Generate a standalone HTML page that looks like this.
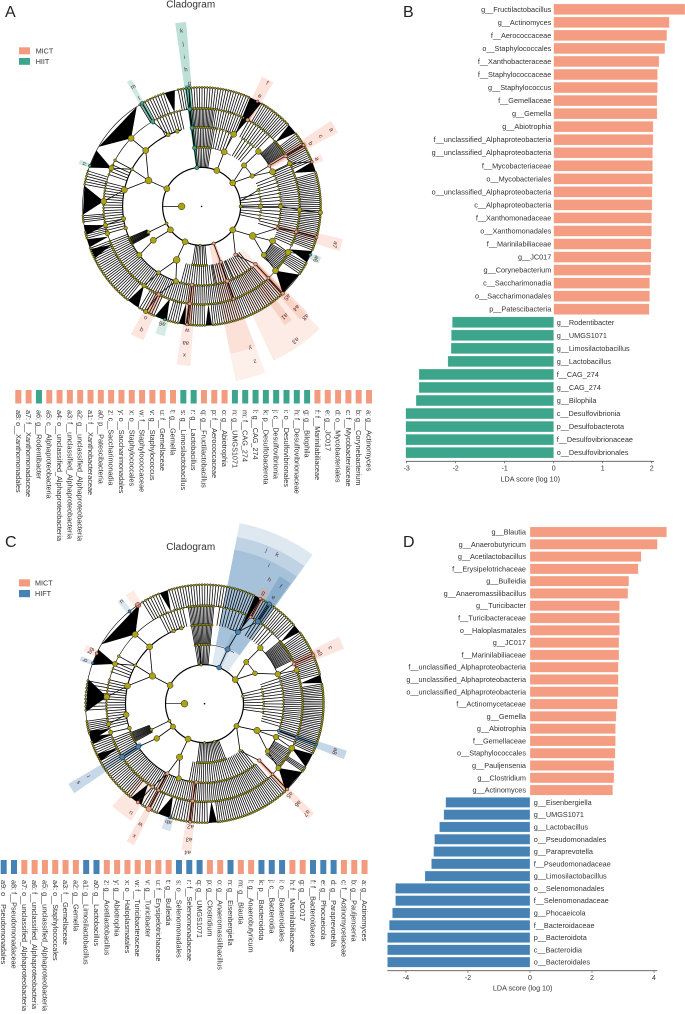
<!DOCTYPE html>
<html lang="en">
<head>
<meta charset="utf-8">
<title>LEfSe cladograms and LDA scores</title>
<style>
html,body{margin:0;padding:0;background:#fff;}
body{width:685px;height:1014px;overflow:hidden;}
svg{display:block;font-family:"Liberation Sans",sans-serif;}
</style>
</head>
<body>
<svg id="figure" width="685" height="1014" viewBox="0 0 685 1014" xmlns="http://www.w3.org/2000/svg">
  <text x="5" y="17" font-size="16" fill="#222">A</text>
  <text x="403" y="17" font-size="16" fill="#222">B</text>
  <text x="5" y="547" font-size="16" fill="#222">C</text>
  <text x="403" y="547" font-size="16" fill="#222">D</text>
  <text x="190.7" y="7.5" font-size="10" text-anchor="middle" fill="#333">Cladogram</text>
  <text x="190.7" y="550" font-size="10" text-anchor="middle" fill="#333">Cladogram</text>
  <rect x="19" y="47.3" width="11" height="7" fill="#f39b7f"/>
  <text x="35.7" y="53.5" font-size="7.2" fill="#333">MICT</text>
  <rect x="19" y="58" width="11" height="6.8" fill="#3ca58b"/>
  <text x="35.7" y="64" font-size="7.2" fill="#333">HIIT</text>
  <rect x="19" y="579.3" width="11" height="7.2" fill="#f39b7f"/>
  <text x="35" y="585.5" font-size="7.2" fill="#333">MICT</text>
  <rect x="19" y="590" width="11" height="7.2" fill="#4682b4"/>
  <text x="35" y="596" font-size="7.2" fill="#333">HIFT</text>
</svg>
<script>
// ---------- Bar chart data ----------
const categoriesB = ["g__Fructilactobacillus","g__Actinomyces","f__Aerococcaceae","o__Staphylococcales","f__Xanthobacteraceae","f__Staphylococcaceae","g__Staphylococcus","f__Gemellaceae","g__Gemella","g__Abiotrophia","f__unclassified_Alphaproteobacteria","g__unclassified_Alphaproteobacteria","f__Mycobacteriaceae","o__Mycobacteriales","o__unclassified_Alphaproteobacteria","c__Alphaproteobacteria","f__Xanthomonadaceae","o__Xanthomonadales","f__Marinilabiliaceae","g__JC017","g__Corynebacterium","c__Saccharimonadia","o__Saccharimonadales","p__Patescibacteria","g__Rodentibacter","g__UMGS1071","g__Limosilactobacillus","g__Lactobacillus","f__CAG_274","g__CAG_274","g__Bilophila","c__Desulfovibrionia","p__Desulfobacterota","f__Desulfovibrionaceae","o__Desulfovibrionales"];
const valuesB = [2.68,2.36,2.31,2.27,2.15,2.12,2.12,2.11,2.11,2.03,2.03,2.02,2.02,2.02,2.01,2.01,2.0,2.0,1.99,1.99,1.98,1.96,1.96,1.95,-2.07,-2.09,-2.095,-2.16,-2.75,-2.75,-2.81,-3.02,-3.02,-3.02,-3.02];
const ticksB = [-3,-2,-1,0,1,2];

const categoriesD = ["g__Blautia","g__Anaerobutyricum","g__Acetilactobacillus","f__Erysipelotrichaceae","g__Bulleidia","g__Anaeromassilibacillus","g__Turicibacter","f__Turicibacteraceae","o__Haloplasmatales","g__JC017","f__Marinilabiliaceae","f__unclassified_Alphaproteobacteria","g__unclassified_Alphaproteobacteria","o__unclassified_Alphaproteobacteria","f__Actinomycetaceae","g__Gemella","g__Abiotrophia","f__Gemellaceae","o__Staphylococcales","g__Pauljensenia","g__Clostridium","g__Actinomyces","g__Eisenbergiella","g__UMGS1071","g__Lactobacillus","o__Pseudomonadales","g__Paraprevotella","f__Pseudomonadaceae","g__Limosilactobacillus","o__Selenomonadales","f__Selenomonadaceae","g__Phocaeicola","f__Bacteroidaceae","p__Bacteroidota","c__Bacteroidia","o__Bacteroidales"];
const valuesD = [4.41,4.11,3.59,3.49,3.19,3.16,2.89,2.89,2.89,2.87,2.87,2.85,2.85,2.85,2.82,2.78,2.76,2.76,2.75,2.71,2.71,2.67,-2.72,-2.78,-2.92,-3.08,-3.11,-3.18,-3.39,-4.34,-4.34,-4.44,-4.54,-4.6,-4.6,-4.6];
const ticksD = [-4,-2,0,2,4];

// ---------- Taxon key strips ("M" = MICT, "X" = exercise group) ----------
const keyNamesA = ["a8: o__Xanthomonadales","a7: f__Xanthomonadaceae","a6: g__Rodentibacter","a5: c__Alphaproteobacteria","a4: o__unclassified_Alphaproteobacteria","a3: f__unclassified_Alphaproteobacteria","a2: g__unclassified_Alphaproteobacteria","a1: f__Xanthobacteraceae","a0: p__Patescibacteria","z: c__Saccharimonadia","y: o__Saccharimonadales","x: o__Staphylococcales","w: f__Staphylococcaceae","v: g__Staphylococcus","u: f__Gemellaceae","t: g__Gemella","s: g__Limosilactobacillus","r: g__Lactobacillus","q: g__Fructilactobacillus","p: f__Aerococcaceae","o: g__Abiotrophia","n: g__UMGS1071","m: f__CAG_274","l: g__CAG_274","k: p__Desulfobacterota","j: c__Desulfovibrionia","i: o__Desulfovibrionales","h: f__Desulfovibrionaceae","g: g__Bilophila","f: f__Marinilabiliaceae","e: g__JC017","d: o__Mycobacteriales","c: f__Mycobacteriaceae","b: g__Corynebacterium","a: g__Actinomyces"];
const keyGroupsA = ["M","M","X","M","M","M","M","M","M","M","M","M","M","M","M","M","X","X","M","M","M","X","X","X","X","X","X","X","X","M","M","M","M","M","M"];
const keyNamesC = ["a9: o__Pseudomonadales","a8: f__Pseudomonadaceae","a7: o__unclassified_Alphaproteobacteria","a6: f__unclassified_Alphaproteobacteria","a5: g__unclassified_Alphaproteobacteria","a4: o__Staphylococcales","a3: f__Gemellaceae","a2: g__Gemella","a1: g__Limosilactobacillus","a0: g__Lactobacillus","z: g__Acetilactobacillus","y: g__Abiotrophia","x: o__Haloplasmatales","w: f__Turicibacteraceae","v: g__Turicibacter","u: f__Erysipelotrichaceae","t: g__Bulleidia","s: o__Selenomonadales","r: f__Selenomonadaceae","q: g__UMGS1071","p: g__Clostridium","o: g__Anaeromassilibacillus","n: g__Eisenbergiella","m: g__Blautia","l: g__Anaerobutyricum","k: p__Bacteroidota","j: c__Bacteroidia","i: o__Bacteroidales","h: f__Marinilabiliaceae","g: g__JC017","f: f__Bacteroidaceae","e: g__Phocaeicola","d: g__Paraprevotella","c: f__Actinomycetaceae","b: g__Pauljensenia","a: g__Actinomyces"];
const keyGroupsC = ["X","X","M","M","M","M","M","M","X","X","M","M","M","M","M","M","M","X","X","X","M","M","X","M","M","X","X","X","M","M","X","X","X","M","M","M"];

// ---------- Cladogram data (angles in degrees clockwise from 12 o'clock) ----------
const levelRadii = [20,39,59,79,98,119];
// nodes: level, angle, parent angle (null = sits on arc), size, kind (0 plain, 1 MICT, 2 exercise group)
const nodesA = [
[0,-90,-90,3.4,0],
[1,-63,null,3,0],[1,-7,null,2,2],[1,23,null,3,0],[1,53,null,3,0],[1,90,null,1.6,0],[1,127,null,3,0],[1,162,null,1.6,1],[1,182,null,1.3,0],[1,205,null,3,0],[1,233,null,3,0],[1,244,null,1.6,0],
[2,-64,-63,3.4,0],[2,-7,-7,2,2],[2,22.5,23,3,0],[2,46,53,2.6,0],[2,59,53,2.2,0],[2,74,82,1.5,0],[2,90,90,2.2,0],[2,120,127,3.4,0],[2,145,127,1.8,1],[2,161,162,1.8,1],[2,205,205,3.4,0],[2,235,233,3,0],[2,244,244,1.6,0],
[3,-78,-64,3,0],[3,-45,-64,3,0],[3,-62,-64,1.5,0],[3,-25,null,2,0],[3,-18,null,2,0],[3,-7,-7,2,2],[3,24,22.5,3,0],[3,46,46,2.8,0],[3,59,59,1.6,1],[3,64,59,3,0],[3,90,90,2.2,0],[3,106,120,1.6,1],[3,116,120,3,0],[3,128,120,2.6,0],[3,137,145,1.8,1],[3,161,161,2,1],[3,187,null,1.8,1],[3,199,205,2.6,0],[3,213,205,2,0],[3,232,235,2.6,0],[3,254,null,1.8,0],[3,261,null,2.2,0],
[4,-46,-45,3,0],[4,-67,-62,2.6,0],[4,-62,-62,1.5,0],[4,-87,-78,3,0],[4,-30,-25,2,2],[4,-7,-7,2,2],[4,28,24,1.8,1],[4,59,59,1.8,1],[4,64,64,2.4,0],[4,92,90,2.2,0],[4,105,106,1.7,1],[4,118,116,3,0],[4,131,128,3,0],[4,137,137,1.5,1],[4,161,161,1.5,1],[4,187,187,1.8,1],[4,206,199,1.8,1],[4,216,213,2.2,0],[4,254,254,2.4,0],[4,259,261,2.2,0],
[5,-6,-7,1.6,2],[5,-30,-30,1.8,2],[5,28,28,1.4,1],[5,59,59,1.5,1],[5,68,64,1.4,1],[5,93,92,2.2,0],[5,105,105,1.5,1],[5,114,118,1.4,2],[5,137,137,1.8,1],[5,187,187,1.5,1],[5,198,199,1.4,2],[5,208,206,2.2,0],[5,-70,-67,1.4,2]
];
const arcsA = [[1,-180,180,1.2],[3,-100,-15,1.1],[3,18,26,0.7],[3,199,262,1],[3,140,200,0.9],[3,116,128,0.9],[3,46,64,0.7],[2,46,59,0.7],[2,-7,30,0.5],[4,-180,180,0.6],[5,-180,180,0.6],[3,88,106,0.6]];
// fans: start angle, end angle, branch count, from level, to level
const fansA = [
[-32,-18,10,4,5],[-12,24,28,4,5],[30,47,15,4,5],[52,68,16,4,5],[73,112,40,4,5],[118,125,7,4,5],[137,175,34,4,5],[178,188,9,4,5],[191,197,5,4,5],[203,212,7,4,5],[218,250,28,4,5],[254,258,4,4,5],[262,266,4,4,5],[280,288,6,4,5],
[-28,-12,9,3,4],[-8,8,18,3,4],[8,26,12,3,4],[28,45,10,3,4],[48,58,14,3,4],[64,100,26,3,4],[100,114,10,3,4],[118,130,13,3,4],[139,176,30,3,4],[176,190,11,3,4],[190,250,44,3,4],[255,285,18,3,4],[-72,-64,4,3,4],
[-8,10,14,2,3],[10,24,6,2,3],[30,42,5,2,3],[66,108,16,2,3],[140,196,30,2,3],[241,247,10,2,3],
[-8,10,10,1,2],[76,104,8,1,2],[174,190,8,1,2],[150,172,5,2,3]
];
// wedges: apex angle, start angle, end angle, from level, to level
const wedgesA = [[-46,-60,-33,4,5],[-67,-71,-62,4,5],[-87,-94,-80,4,5],[-101,-104,-99,4,5],[-113,-116,-111,4,5],[-16,-18,-13,4,5],[25,24,30,3,5],[49,47,52,4,5],[70,68,73,4,5],[116,112,118,4,5],[131,125,137,4,5],[176,175,178,4,5],[189,188,191,4,5],[199,197,203,4,5],[216,212,218,4,5],[252,250,254,4,5]];
// shaded clades: start angle, end angle, inner radius, outer radius, kind, opacity
const shadesA = [
[-8.2,-4.8,38,185,2,0.34],[-8,-5.6,38,122,2,0.75],[-31,-29,95,145,2,0.25],[-31,-29,95,119,2,0.7],
[25,30,97,143,1,0.28],[26.7,29.3,97,120,1,0.7],[56.5,61.5,78,155,1,0.28],[57.7,60.3,78,122,1,0.6],[66.5,69.5,115,130,1,0.25],
[103,108,75,145,1,0.25],[104,106.5,78,120,1,0.35],[113,116,115,130,2,0.25],
[136,155,60,170,1,0.2],[135,139,78,150,1,0.3],[135.8,138.2,78,120,1,0.7],[141.5,145,98,145,1,0.3],
[159,169,40,178,1,0.16],[159,169,40,150,1,0.16],[160,163,40,100,1,0.55],
[184,189,78,160,1,0.22],[185,188.5,78,120,1,0.65],[203.5,209,95,146,1,0.25],[205,208,95,120,1,0.6],[196,200,115,135,2,0.22],[-71,-69,117,130,2,0.25]
];
const labelsA = [["g",124,-5.7],["h",138,-6.5],["i",150.6,-6.6],["j",164,-6.5],["k",177,-6.5],["m",138,-29.7],["l",125,-30],["e",125,27.8],["f",140,28],["b",126,60],["c",138.5,59.5],["a",151,59.4],["a",125,67.6],["a7",139,106],["a6",126,114.6],["a5",125,136.7],["a1",138,143],["a4",139,137],["a8",152,136.8],["a3",164,145],["y",150,161],["z",164,161],["w",125,186.6],["aa",138,186.6],["x",150,186.6],["o",125,206.7],["q",137.5,206],["a6",124,198.5],["n",125,-70]];

const nodesC = [
[0,-90,-90,3.4,0],
[1,-62,null,3,0],[1,22,null,2.4,2],[1,-5,null,1.3,0],[1,52,null,3,0],[1,79,null,1.4,0],[1,125,null,2.6,0],[1,205,null,3,0],[1,234,null,2.6,0],[1,244,null,1.6,0],[1,165,null,1.3,0],[1,180,null,1.3,0],
[2,-62,-62,3.2,0],[2,23,22,2.6,2],[2,45,52,2.6,0],[2,59,52,2.4,0],[2,117,125,3.2,0],[2,143,125,1.3,0],[2,205,205,3.2,0],[2,234,234,2.8,0],[2,244,244,1.5,0],[2,-5,-5,1.3,0],
[3,-44,-62,3,0],[3,-77,-62,3,0],[3,-61,-62,1.6,0],[3,-17,null,1.8,0],[3,-23,null,1.8,0],[3,25,23,2.6,2],[3,45,45,2.8,0],[3,68,59,2.8,0],[3,110,117,1.5,2],[3,115,117,2.8,0],[3,127,117,2.4,0],[3,136,143,1.8,1],[3,186,null,1.7,1],[3,199,205,2.6,0],[3,208,205,1.8,1],[3,237,234,2.4,2],[3,252,null,2,0],[3,262,null,2.8,0],
[4,-45,-44,3,0],[4,-66,-61,2.6,0],[4,-61,-61,1.4,0],[4,-86,-77,3,0],[4,28,25,1.5,1],[4,33,25,2.6,2],[4,66,68,1.7,1],[4,70,68,2.6,0],[4,110,110,1.5,2],[4,117,115,3,0],[4,131,127,2.6,0],[4,136,136,1.4,1],[4,187,186,1.8,1],[4,208,208,1.6,1],[4,212,208,1.8,1],[4,237,237,2.6,2],[4,253,252,2.2,0],[4,258,262,2.2,0],
[5,33,33,2.2,2],[5,28,28,1.5,1],[5,66,66,1.5,1],[5,110,110,1.4,2],[5,136,136,1.6,1],[5,187,187,1.5,1],[5,208,208,2.6,1],[5,214,212,1.7,1],[5,197,199,1.3,2],[5,-34,-45,2.6,1],[5,-39,-45,1.5,2],[5,-65,-66,1.6,1],[5,-70,-66,1.2,2]
];
const arcsC = [[1,-180,180,1.2],[3,-100,-15,1.1],[3,18,27,0.7],[3,199,262,1],[3,140,199,0.9],[3,115,128,0.9],[3,45,68,0.7],[2,45,59,0.7],[2,-10,30,0.5],[4,-180,180,0.6],[5,-180,180,0.6],[3,88,110,0.6]];
const fansC = [
[-32,-22,7,4,5],[-18,25,32,4,5],[28,49,17,4,5],[53,76,22,4,5],[80,115,38,4,5],[122,125,4,4,5],[137,174,34,4,5],[178,197,15,4,5],[203,212,7,4,5],[218,252,30,4,5],[255,262,7,4,5],[266,282,9,4,5],
[-28,-12,9,3,4],[-10,6,18,3,4],[8,26,9,3,4],[30,45,8,3,4],[50,64,18,3,4],[70,100,24,3,4],[100,114,10,3,4],[118,130,13,3,4],[139,176,30,3,4],[176,190,11,3,4],[190,250,44,3,4],[255,285,18,3,4],[-72,-64,4,3,4],
[-10,6,16,2,3],[70,108,16,2,3],[140,192,30,2,3],[241,249,11,2,3],
[-10,6,10,1,2],[74,100,8,1,2],[158,188,16,1,2]
];
const wedgesC = [[-45,-60,-33,4,5],[-66,-71,-63,4,5],[-86,-94,-78,4,5],[-105,-108,-103,4,5],[-117,-119,-115,4,5],[-20,-22,-18,4,5],[26,25,28,3,5],[51,49,53,4,5],[78,76,80,4,5],[117,115,122,4,5],[131,125,137,4,5],[176,174,178,4,5],[199,197,203,4,5],[215,212,218,4,5],[252,250,254,4,5]];
const shadesC = [
[11,36,40,184,2,0.18],[11,36,60,170,2,0.2],[11,36,60,157,2,0.2],[30.5,35.5,97,148,2,0.3],[21,25,38,75,2,0.2],
[26,30,97,130,1,0.3],[27,29.2,97,120,1,0.7],[31.5,34.5,97,120,2,0.5],
[63.5,68.5,95,150,1,0.25],[64.5,67.5,97,122,1,0.65],[108.3,111.7,78,150,2,0.32],[109.3,110.7,78,120,2,0.5],
[135,138,78,155,1,0.28],[135.3,137,78,120,1,0.75],[185,189,78,148,1,0.24],[186,188,78,120,1,0.65],
[212,222,95,138,1,0.24],[206.5,209.5,78,158,1,0.28],[207,209,78,118,1,0.65],[195,199,115,132,2,0.22],
[235.5,239.5,75,158,2,0.3],[236,238.5,75,100,2,0.7],[-36,-32,118,134,1,0.2],[-40.5,-38,118,134,2,0.2],[-66.5,-63.5,118,132,1,0.2],[-71,-69,118,132,2,0.25]
];
const labelsC = [["j",166,22],["k",166,26],["i",152.6,25],["h",140,27.6],["g",125.7,28],["f",140,33],["e",127,33],["c",138,66],["a9",126,66],["a8",139,110],["a5",125,137],["a6",137,137],["a7",150,137],["a2",124,186.5],["a3",137,186.5],["a4",150,186.5],["y",117,214],["u",132,214],["w",137,208],["x",150,208],["r",137,238],["s",149,238],["ab",124,197],["m",118,-34],["n",132,-39],["bg",126,-65],["b",127,-70]];

// ---------- Helpers ----------
const NS = "http://www.w3.org/2000/svg";
const figure = document.getElementById("figure");
const COLORS = {mict:"#f39b7f", teal:"#3ca58b", blue:"#4682b4", node:"#aca410", text:"#333"};
function make(tag, attrs, parent){
  const n = document.createElementNS(NS, tag);
  for(const k in attrs){ n.setAttribute(k, attrs[k]); }
  parent.appendChild(n);
  return n;
}
function polar(c, r, a){
  const t = a*Math.PI/180;
  return [c[0]+r*Math.sin(t), c[1]-r*Math.cos(t)];
}
function arcPath(c, r, a0, a1){
  if(a1-a0 >= 360){
    const p = polar(c,r,0), q = polar(c,r,180);
    return "M"+p[0]+" "+p[1]+"A"+r+" "+r+" 0 1 1 "+q[0]+" "+q[1]+"A"+r+" "+r+" 0 1 1 "+p[0]+" "+p[1];
  }
  const p = polar(c,r,a0), q = polar(c,r,a1);
  return "M"+p[0]+" "+p[1]+"A"+r+" "+r+" 0 "+((a1-a0)>180?1:0)+" 1 "+q[0]+" "+q[1];
}
function sectorPath(c, r0, r1, a0, a1){
  const p1 = polar(c,r0,a0), p2 = polar(c,r1,a0), p3 = polar(c,r1,a1), p4 = polar(c,r0,a1);
  return "M"+p1[0]+" "+p1[1]+"L"+p2[0]+" "+p2[1]+"A"+r1+" "+r1+" 0 0 1 "+p3[0]+" "+p3[1]+"L"+p4[0]+" "+p4[1]+"A"+r0+" "+r0+" 0 0 0 "+p1[0]+" "+p1[1]+"Z";
}

// ---------- Cladogram ----------
function drawCladogram(name, c, groupColor, nodes, arcs, fans, wedges, shades, labels){
  const g = make("g", {}, figure);
  
  
  const kindColor = [COLORS.node, COLORS.mict, groupColor];
  shades.forEach(function(s){
    const el = make("path", {d:sectorPath(c,s[2],s[3],s[0],s[1]), fill:kindColor[s[4]], "fill-opacity":s[5]}, g);
    
    
  });
  wedges.forEach(function(w){
    const a = polar(c, levelRadii[w[3]], w[0]), b = polar(c, levelRadii[w[4]], w[1]), d = polar(c, levelRadii[w[4]], w[2]);
    const el = make("polygon", {points:a.join(",")+" "+b.join(",")+" "+d.join(","), fill:"#000"}, g);
    
    
  });
  arcs.forEach(function(s){
    const el = make("path", {d:arcPath(c, levelRadii[s[0]], s[1], s[2]), fill:"none", stroke:"#000", "stroke-width":s[3]}, g);
    
    
  });
  const leaves = [];
  fans.forEach(function(f){
    for(let i=0;i<f[2];i++){
      const a = f[0]+(f[1]-f[0])*(i+0.5)/f[2];
      const p = polar(c, levelRadii[f[3]], a), q = polar(c, levelRadii[f[4]], a);
      const el = make("line", {x1:p[0], y1:p[1], x2:q[0], y2:q[1], stroke:"#000", "stroke-width":0.75}, g);
      
      
      leaves.push(q);
    }
  });
  nodes.forEach(function(n){
    if(n[0] === 0){
      const p = polar(c, levelRadii[1], n[1]), q = polar(c, levelRadii[0], n[1]);
      const el0 = make("line", {x1:p[0], y1:p[1], x2:q[0], y2:q[1], stroke:"#000", "stroke-width":0.7}, g);
      
      
    } else if(n[2] !== null){
      const p = polar(c, levelRadii[n[0]-1], n[2]), q = polar(c, levelRadii[n[0]], n[1]);
      const el1 = make("line", {x1:p[0], y1:p[1], x2:q[0], y2:q[1], stroke:"#000", "stroke-width":0.8}, g);
      
      
    }
  });
  leaves.forEach(function(q){
    const el = make("circle", {cx:q[0], cy:q[1], r:1.05, fill:COLORS.node, stroke:"#111", "stroke-width":0.45}, g);
    
    
  });
  nodes.forEach(function(n){
    const q = polar(c, levelRadii[n[0]], n[1]);
    const el = make("circle", {cx:q[0], cy:q[1], r:n[3], fill:kindColor[n[4]], stroke:"#222", "stroke-width":0.5}, g);
    
    
  });
  const centre = make("circle", {cx:c[0], cy:c[1], r:0.8, fill:"#000"}, g);
  
  
  labels.forEach(function(l){
    const q = polar(c, l[1], l[2]);
    const el = make("text", {x:q[0], y:q[1]+2, "font-size":6, "text-anchor":"middle", fill:"#5a2f2f", transform:"rotate("+l[2]+" "+q[0]+" "+q[1]+")"}, g);
    el.textContent = l[0];
    
    
  });
}

// ---------- Key strip ----------
function drawKey(name, names, groups, x0, step, barTop, barH, textTop, groupColor){
  const g = make("g", {}, figure);
  
  
  names.forEach(function(t,i){
    const x = x0 + step*i;
    const r = make("rect", {x:x-3, y:barTop, width:6, height:barH, fill:groups[i]==="M"?COLORS.mict:groupColor}, g);
    
    
    const el = make("text", {x:x, y:textTop, "font-size":7.25, fill:COLORS.text, "text-anchor":"start", "dominant-baseline":"central", transform:"rotate(90 "+x+" "+textTop+")"}, g);
    el.textContent = t;
    
    
  });
}

// ---------- Bar chart ----------
function drawBars(name, cats, vals, ticks, xOf, yOf, barH, negColor, rightEdge, leftEdge, axisY, axisL, axisR, titleX){
  const g = make("g", {}, figure);
  
  
  cats.forEach(function(c,i){
    const v = vals[i], y = yOf(i), x0 = xOf(0), x1 = xOf(v);
    const r = make("rect", {x:Math.min(x0,x1), y:y-barH/2, width:Math.abs(x1-x0), height:barH, fill:v>=0?"#f49d83":negColor, stroke:"#fff", "stroke-opacity":0.5, "stroke-width":0.5}, g);
    
    
    const t = make("text", {x:v>=0?rightEdge:leftEdge, y:y+2.5, "font-size":7.3, "text-anchor":v>=0?"end":"start", fill:COLORS.text}, g);
    t.textContent = c;
    
    
  });
  const ax = make("line", {x1:axisL, y1:axisY, x2:axisR, y2:axisY, stroke:"#555", "stroke-width":0.8}, g);
  
  
  ticks.forEach(function(v){
    const tk = make("line", {x1:xOf(v), y1:axisY, x2:xOf(v), y2:axisY+2, stroke:"#555", "stroke-width":0.7}, g);
    
    
    const lb = make("text", {x:xOf(v), y:axisY+9.3, "font-size":7, "text-anchor":"middle", fill:COLORS.text}, g);
    lb.textContent = String(v);
    
    
  });
  const ti = make("text", {x:titleX, y:axisY+20, "font-size":7.2, "text-anchor":"middle", fill:COLORS.text}, g);
  ti.textContent = "LDA score (log 10)";
  
  
}

drawCladogram("cladogram-a", [201.6,206.4], COLORS.teal, nodesA, arcsA, fansA, wedgesA, shadesA, labelsA);
drawCladogram("cladogram-c", [204.5,703.7], COLORS.blue, nodesC, arcsC, fansC, wedgesC, shadesC, labelsC);
drawKey("taxon-key-a", keyNamesA, keyGroupsA, 18.3, 10.315, 390, 13.5, 410, COLORS.teal);
drawKey("taxon-key-c", keyNamesC, keyGroupsC, 3.7, 10.31, 860, 14, 880, COLORS.blue);
drawBars("lda-chart-b", categoriesB, valuesB, ticksB,
  function(v){ return 553.7+49*v; }, function(i){ return 9.3+13.04*i; },
  10.8, COLORS.teal, 551.3, 556.7, 461.3, 406, 654, 530.3);
drawBars("lda-chart-d", categoriesD, valuesD, ticksD,
  function(v){ return 530+31*v; }, function(i){ return 532+12.29*i; },
  10.2, COLORS.blue, 526, 533.7, 970.7, 387.3, 657.3, 522.7);
</script>
</body>
</html>
